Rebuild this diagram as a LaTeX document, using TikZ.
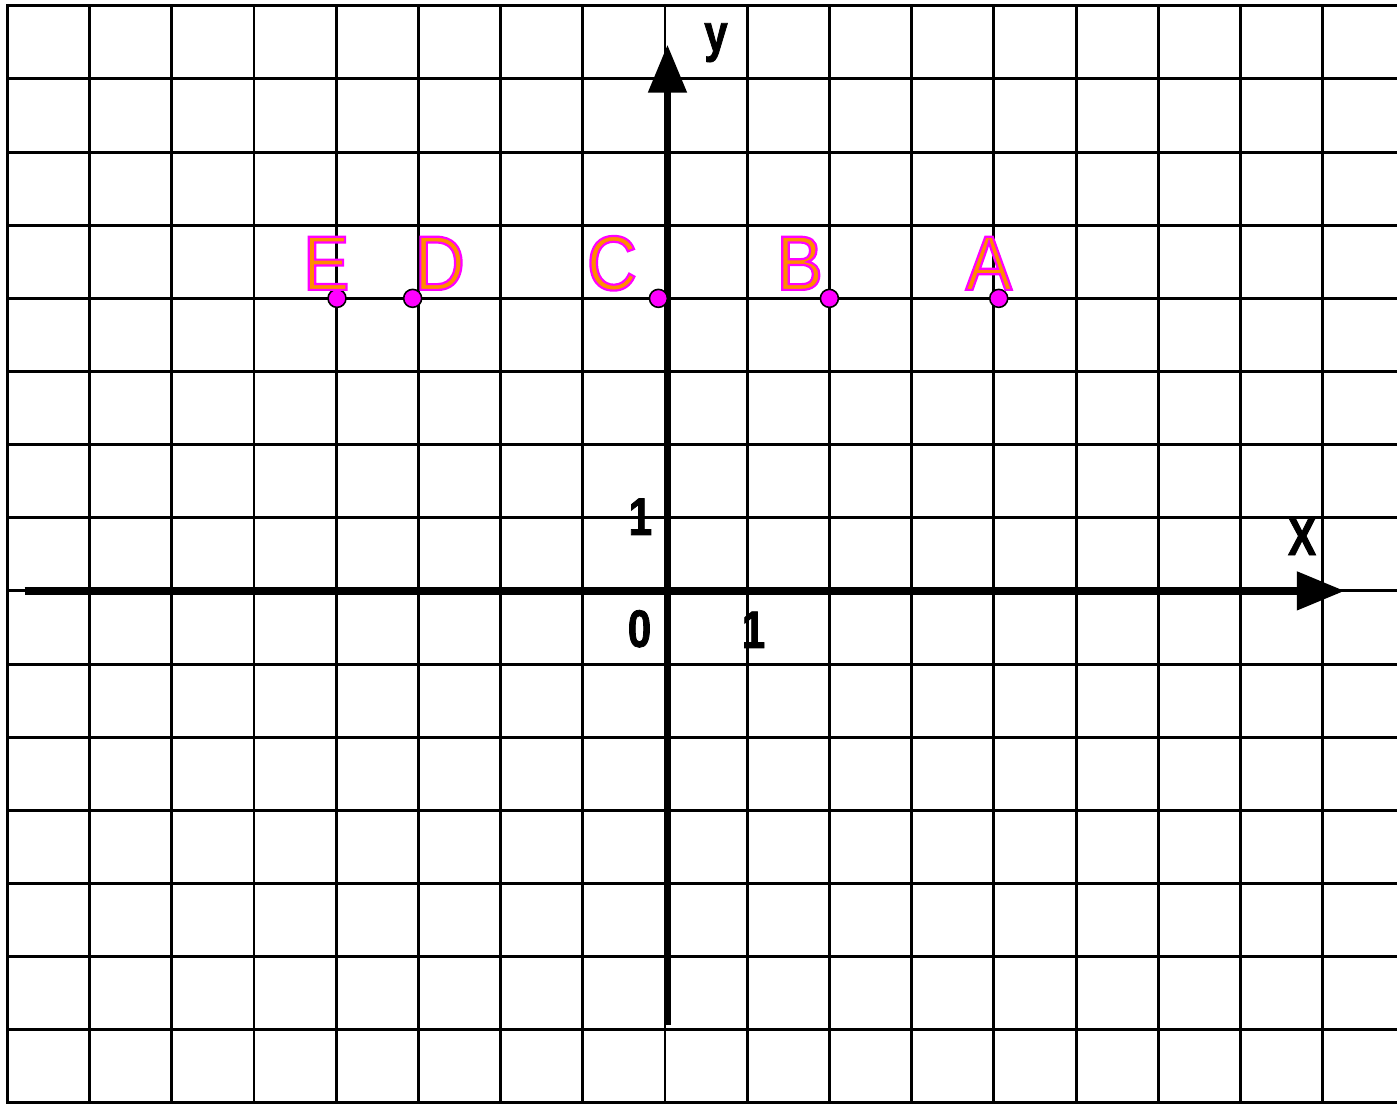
\documentclass[tikz,border=0pt]{standalone}
\usepackage{fontspec}
\usetikzlibrary{arrows.meta}
\setmainfont{Liberation Sans}
\definecolor{ptpink}{RGB}{255,0,255}
\newfontfamily\edgefont[FakeStretch=0.9,FakeBold=2.8]{Liberation Sans}
\newfontfamily\numfont[FakeStretch=0.8,FakeBold=1.5]{Liberation Sans Bold}
% 橙色填充, 品红描边
\newcommand{\outlined}[1]{{\edgefont\special{pdf:bcolor [1 0.55 0] [1 0 1]}#1\special{pdf:ecolor}}}

\begin{document}
\begin{tikzpicture}[x=1.644cm, y=1.4626cm,
  gridline/.style={line width=1.7pt, line cap=rect},
  axisline/.style={line width=4.5pt, -{Triangle[length=0.96cm, width=0.74cm]}},
  dot/.style={circle, fill=ptpink, draw=black, line width=0.9pt, minimum size=0.36cm, inner sep=0pt},
  ptname/.style={inner sep=0pt, anchor=base, font=\fontsize{44}{44}\selectfont},
  num/.style={inner sep=0pt, anchor=base, font=\numfont\fontsize{30}{30}\selectfont}]
\useasboundingbox (-8.09,-7.015) rectangle (8.905,8.08);

% 网格
\foreach \i in {-8,...,8} \draw[gridline] (\i,-7) -- (\i,8);
\foreach \j in {-7,...,8} \draw[gridline] (-8,\j) -- (8.905,\j);

% 坐标轴
\coordinate (xs) at (-7.79,0);
\coordinate (xe) at (8.27,0);
\coordinate (ys) at (0.03,-5.93);
\coordinate (ye) at (0.03,7.47);
\draw[axisline] (xs) -- (xe);
\draw[axisline] (ys) -- (ye);

% 轴标签与刻度
\node[num] (lx) at (7.75,0.49) {X};
\node[num] (ly) at (0.62,7.38) {y};
\node[num] (oy) at (-0.30,0.766) {1};
\node[num] (o) at (-0.31,-0.766) {0};
\node[num] (ox) at (1.077,-0.78) {1};

% 点
\node[dot] (pA) at (4.06,4) {};
\node[dot] (pB) at (2.0,4) {};
\node[dot] (pC) at (-0.08,4) {};
\node[dot] (pD) at (-3.07,4) {};
\node[dot] (pE) at (-3.99,4) {};

% 点名
\node[ptname] (lA) at (3.94,4.116) {\outlined{A}};
\node[ptname] (lB) at (1.64,4.116) {\outlined{B}};
\node[ptname] (lC) at (-0.645,4.116) {\outlined{C}};
\node[ptname] (lD) at (-2.74,4.116) {\outlined{D}};
\node[ptname] (lE) at (-4.12,4.116) {\outlined{E}};
\end{tikzpicture}
\end{document}
